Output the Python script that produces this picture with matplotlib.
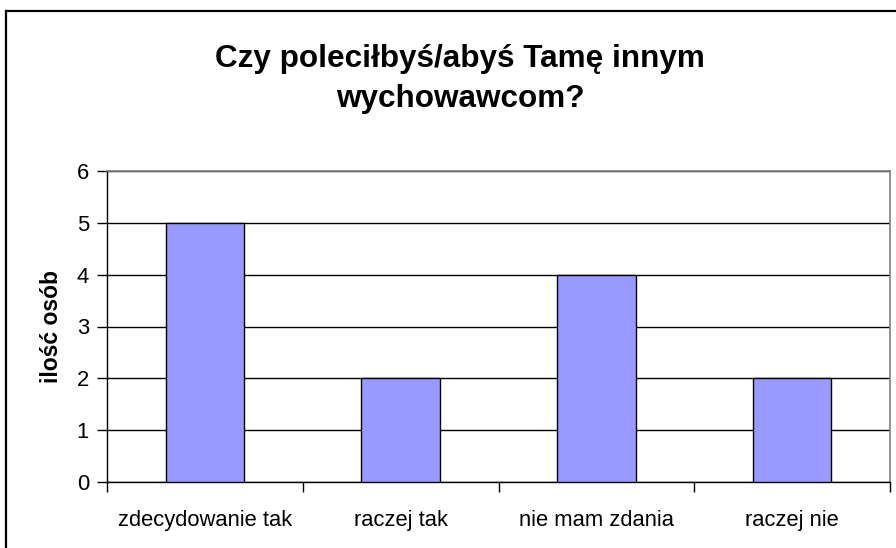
import matplotlib
matplotlib.use("Agg")
import matplotlib.pyplot as plt
from matplotlib.lines import Line2D
import numpy as np

# data
categories = ["zdecydowanie tak", "raczej tak", "nie mam zdania", "raczej nie"]
counts = [5, 2, 4, 2]
title = "Czy poleciłbyś/abyś Tamę innym\nwychowawcom?"
ylabel = "ilość osób"

plt.rcParams['font.family'] = ['Liberation Sans', 'DejaVu Sans']

W, H = 896, 548
fig = plt.figure(figsize=(W / 100, H / 100), dpi=100, facecolor='white')
ax = fig.add_axes([107 / W, 1 - 482 / H, (890 - 107) / W, (482 - 171) / H])

x = np.arange(len(categories))
ax.bar(x, counts, width=0.4, color='#9999FF', edgecolor='black', linewidth=1.0, zorder=3)

ax.set_xlim(-0.5, len(categories) - 0.5)
ax.set_ylim(0, 6)
ax.set_yticks(range(0, 7))
ax.yaxis.grid(True, color='black', linewidth=1.0, zorder=0)
ax.set_axisbelow(True)

# x ticks between categories, labels centred under the bars
ax.set_xticks(x)
ax.set_xticklabels(categories, fontsize=15.8)
ax.set_xticks(np.arange(-0.5, len(categories)), minor=True)
ax.tick_params(axis='x', which='major', length=0, pad=20)
ax.tick_params(axis='x', which='minor', length=7, width=1, color='black', direction='out')
ax.tick_params(axis='y', length=7, width=1, color='black', labelsize=15.8, pad=6)

for s in ['top', 'right']:
    ax.spines[s].set_color('#808080')
    ax.spines[s].set_linewidth(1.2)
for s in ['left', 'bottom']:
    ax.spines[s].set_color('black')
    ax.spines[s].set_linewidth(1.0)

ax.set_ylabel(ylabel, fontsize=16.5, fontweight='bold', labelpad=10)

fig.text(460 / W, 1 - 79 / H, title, ha='center', va='center', fontsize=22.7,
         fontweight='bold', linespacing=1.45)

# chart frame (cropped on the right and bottom)
fig.add_artist(Line2D([6 / W, 6 / W], [0, 1 - 11 / H], transform=fig.transFigure,
                      color='black', linewidth=1.6))
fig.add_artist(Line2D([6 / W, 1], [1 - 11 / H, 1 - 11 / H], transform=fig.transFigure,
                      color='black', linewidth=1.6))

fig.savefig("out.png", dpi=100, facecolor='white')
